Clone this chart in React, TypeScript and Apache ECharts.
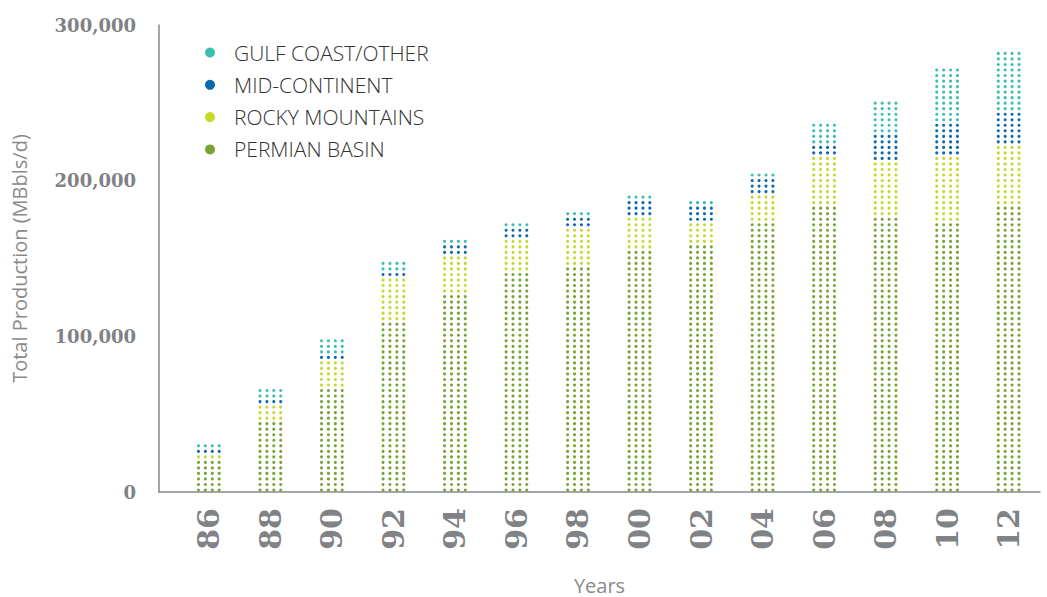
import React, { useEffect, useRef } from "react";
import * as echarts from "echarts";

const years = ["86", "88", "90", "92", "94", "96", "98", "00", "02", "04", "06", "08", "10", "12"];
const permianBasin = [21300, 46200, 67400, 110000, 127800, 142000, 145600, 156200, 159800, 174000, 184600, 177500, 174000, 184600];
const rockyMountains = [3600, 10600, 17800, 28400, 24800, 21300, 24900, 21300, 14200, 17700, 32000, 35500, 42600, 39000];
const midContinent = [3500, 3600, 3500, 3600, 7100, 7100, 7000, 10600, 10700, 10600, 7100, 17800, 21300, 21300];
const gulfCoast = [3500, 7100, 10700, 7100, 3600, 3500, 3600, 3600, 3500, 3600, 14200, 21300, 35500, 39000];
const yTicks = [0, 100000, 200000, 300000];

const seriesNames = ["PERMIAN BASIN", "ROCKY MOUNTAINS", "MID-CONTINENT", "GULF COAST/OTHER"];
const seriesValues = [permianBasin, rockyMountains, midContinent, gulfCoast];
const seriesColors = ["#78a436", "#c6d92f", "#0c68ad", "#3bbfb3"];

const ROW = 3550; // value represented by one row of dots
const COLS = [-10.35, -3.45, 3.45, 10.35];

export default function App() {
  const ref = useRef<HTMLDivElement>(null);
  useEffect(() => {
    if (!ref.current) return;
    const chart = echarts.init(ref.current, undefined, { renderer: "svg" });
    const cum = years.map(() => 0);
    const series = seriesValues.map((vals, si) => {
      const data = vals.map((v, i) => {
        const base = cum[i];
        cum[i] += v;
        return [i, base, cum[i]];
      });
      return {
        type: "custom",
        name: seriesNames[si],
        itemStyle: { color: seriesColors[si] },
        encode: { x: 0, y: [1, 2] },
        data,
        renderItem: (params: any, api: any) => {
          const x = api.value(0);
          const base = api.value(1);
          const top = api.value(2);
          const r0 = Math.round(base / ROW);
          const r1 = Math.round(top / ROW);
          const cx = api.coord([x, 0])[0];
          const children: any[] = [];
          for (let k = r0; k < r1; k++) {
            const cy = api.coord([x, k * ROW])[1] - 2;
            for (const c of COLS) {
              children.push({
                type: "circle",
                shape: { cx: cx + c, cy, r: 1.55 },
                style: { fill: seriesColors[si] },
              });
            }
          }
          return { type: "group", children };
        },
      };
    });

    chart.setOption({
      animation: false,
      grid: {
        left: 159,
        right: 7,
        top: 25,
        bottom: 105,
        containLabel: false,
        outerBoundsMode: "none",
      },
      legend: {
        orient: "vertical",
        left: 200,
        top: 37,
        icon: "circle",
        itemWidth: 10,
        itemHeight: 10,
        itemGap: 11.3,
        data: ["GULF COAST/OTHER", "MID-CONTINENT", "ROCKY MOUNTAINS", "PERMIAN BASIN"],
        textStyle: {
          fontFamily: "Open Sans",
          fontWeight: 300,
          fontSize: 21,
          lineHeight: 21,
          color: "#333333",
          padding: [0, 0, 0, 14],
        },
      },
      xAxis: {
        type: "value",
        min: -0.81,
        max: 13.51,
        name: "Years",
        nameLocation: "middle",
        nameGap: 83,
        nameMoveOverlap: false,
        nameTextStyle: { fontFamily: "Open Sans", fontSize: 20, lineHeight: 20, color: "#8a8a8a" },
        axisLine: { show: true, onZero: false, lineStyle: { color: "#85878a", width: 1.5 } },
        axisTick: { show: false },
        splitLine: { show: false },
        axisLabel: {
          customValues: years.map((_, i) => i),
          formatter: (v: number) => years[Math.round(v)],
          rotate: 90,
          margin: 16,
          fontFamily: "DejaVu Serif",
          fontWeight: "bold",
          fontSize: 30,
          color: "#808285",
        },
      },
      yAxis: {
        type: "value",
        min: 0,
        max: 300000,
        interval: 100000,
        name: "Total Production (MBbls/d)",
        nameLocation: "middle",
        nameGap: 130,
        nameMoveOverlap: false,
        nameTextStyle: { fontFamily: "Open Sans", fontSize: 20, color: "#8a8a8a" },
        axisLine: { show: true, onZero: false, lineStyle: { color: "#85878a", width: 1.5 } },
        axisTick: { show: false },
        splitLine: { show: false },
        axisLabel: {
          customValues: yTicks,
          margin: 23,
          fontFamily: "DejaVu Serif",
          fontWeight: "bold",
          fontSize: 18,
          color: "#808285",
          formatter: (v: number) => v.toLocaleString("en-US"),
        },
      },
      series,
    });
    return () => chart.dispose();
  }, []);
  return (
    <div
      ref={ref}
      style={{ position: "fixed", left: 0, top: 0, width: 1047, height: 597, background: "#fff" }}
    />
  );
}
